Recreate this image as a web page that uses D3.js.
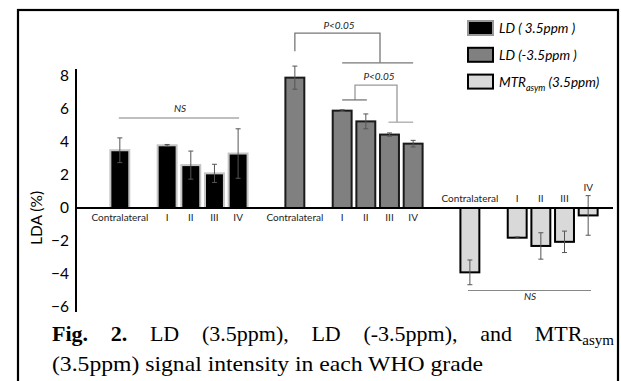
<!DOCTYPE html>
<html>
<head>
<meta charset="utf-8">
<style>
  body { margin: 0; background: #fff; }
  svg { display: block; }
  .tick text { font-family: Lato, "Open Sans", sans-serif; font-size: 15.5px; fill: #000; }
  .cat { font-family: Lato, "Open Sans", sans-serif; font-size: 10px; fill: #222; }
  .note { font-family: Lato, "Open Sans", sans-serif; font-size: 10px; font-style: italic; fill: #222; }
  .leg { font-family: Lato, "Open Sans", sans-serif; font-size: 13.5px; font-style: italic; fill: #000; }
  .cap { font-family: "Liberation Serif", "Times New Roman", serif; font-size: 22px; fill: #000; }
</style>
</head>
<body>
<script src="https://d3js.org/d3.v7.min.js"></script>
<script>

var width = 621,
    height = 381;

// data
var grades = ["Contralateral", "I", "II", "III", "IV"];
var groups = ["ld35", "ldm35", "mtr"];
var seriesNames = ["LD ( 3.5ppm )", "LD (-3.5ppm )", "MTR"];

var ld35 = [3.5, 3.8, 2.6, 2.1, 3.3];
var ld35Err = [0.75, 0.05, 0.85, 0.55, 1.5];

var ldm35 = [7.9, 5.9, 5.25, 4.45, 3.9];
var ldm35Err = [0.7, 0.05, 0.45, 0.1, 0.2];

var mtr = [-3.9, -1.8, -2.3, -2.05, -0.45];
var mtrErr = [0.75, 0.05, 0.8, 0.65, 1.2];

var yTicks = [-6, -4, -2, 0, 2, 4, 6, 8];

var fills = ["#000000", "#808080", "#d9d9d9"];
var strokes = ["#c4c4c4", "#1a1a1a", "#000000"];

var values = [ld35, ldm35, mtr];
var errors = [ld35Err, ldm35Err, mtrErr];

var svg = d3.select("body").append("svg")
    .attr("width", width)
    .attr("height", height);

// outer frame
svg.append("rect")
    .attr("x", 18).attr("y", 10)
    .attr("width", 600).attr("height", 400)
    .attr("fill", "none")
    .attr("stroke", "#000")
    .attr("stroke-width", 2.2);

// scales
var y = d3.scaleLinear().domain([-6, 8]).range([307, 76]);

var x0 = d3.scaleBand()
    .domain(groups)
    .range([108, 600])
    .paddingInner(0.189);

// one empty slot between contralateral and grade I
var slots = ["Contralateral", "gap", "I", "II", "III", "IV"];
var x1 = d3.scaleBand()
    .domain(slots)
    .range([0, x0.bandwidth()])
    .paddingInner(0.2)
    .paddingOuter(0.1);

function cx(g, name) {
  return x0(g) + x1(name) + x1.bandwidth() / 2;
}

// y axis
var yAxis = d3.axisLeft(y)
    .tickValues(yTicks)
    .tickSize(0)
    .tickPadding(7);

var ax = svg.append("g")
    .attr("transform", "translate(76,0)")
    .call(yAxis);
ax.select(".domain").remove();

svg.append("line")
    .attr("x1", 76).attr("x2", 76)
    .attr("y1", 69).attr("y2", 312)
    .attr("stroke", "#000").attr("stroke-width", 2);

svg.append("text")
    .attr("transform", "translate(42," + 218 + ") rotate(-90)")
    .attr("text-anchor", "middle")
    .style("font-family", "Lato, 'Open Sans', sans-serif")
    .style("font-size", "15.5px")
    .text("LDA (%)");

// bars
groups.forEach(function(g, gi) {
  var rows = grades.map(function(name, i) {
    return { name: name, v: values[gi][i], e: errors[gi][i] };
  });

  var bars = svg.append("g").attr("class", "bars-" + g);

  bars.selectAll("rect")
    .data(rows)
    .enter()
    .append("rect")
    .attr("x", function(d) { return x0(g) + x1(d.name); })
    .attr("y", function(d) { return y(Math.max(0, d.v)); })
    .attr("width", x1.bandwidth())
    .attr("height", function(d) { return Math.abs(y(d.v) - y(0)); })
    .attr("fill", fills[gi])
    .attr("stroke", strokes[gi])
    .attr("stroke-width", 2);

  // error bars
  var eb = bars.selectAll(".err")
    .data(rows)
    .enter()
    .append("g")
    .attr("class", "err")
    .attr("stroke", "#555")
    .attr("stroke-width", 1);

  eb.append("line")
    .attr("x1", function(d) { return cx(g, d.name); })
    .attr("x2", function(d) { return cx(g, d.name); })
    .attr("y1", function(d) { return y(d.v + d.e); })
    .attr("y2", function(d) { return y(d.v - d.e); });

  [1, -1].forEach(function(s) {
    eb.append("line")
      .attr("x1", function(d) { return cx(g, d.name) - 2.5; })
      .attr("x2", function(d) { return cx(g, d.name) + 2.5; })
      .attr("y1", function(d) { return y(d.v + s * d.e); })
      .attr("y2", function(d) { return y(d.v + s * d.e); });
  });

  // category labels
  bars.selectAll(".cat")
    .data(rows)
    .enter()
    .append("text")
    .attr("class", "cat")
    .attr("text-anchor", "middle")
    .attr("x", function(d) { return cx(g, d.name); })
    .attr("y", function(d) {
      if (gi < 2) return 221;
      return d.name == "IV" ? 191 : 202;
    })
    .text(function(d) { return d.name; });
});

// zero line
svg.append("line")
    .attr("x1", 76).attr("x2", 613)
    .attr("y1", y(0)).attr("y2", y(0))
    .attr("stroke", "#000").attr("stroke-width", 2);

// significance marks
function path(pts, color) {
  svg.append("path")
    .attr("d", d3.line()(pts))
    .attr("fill", "none")
    .attr("stroke", color)
    .attr("stroke-width", 1.3);
}

// NS over LD (3.5ppm)
svg.append("line")
    .attr("x1", cx("ld35", "Contralateral") - 1).attr("x2", cx("ld35", "IV") + 1)
    .attr("y1", y(5.45)).attr("y2", y(5.45))
    .attr("stroke", "#aaa").attr("stroke-width", 1.5);
svg.append("text").attr("class", "note")
    .attr("x", 180).attr("y", y(5.8))
    .attr("text-anchor", "middle").text("NS");

// P<0.05 contralateral vs grades (LD -3.5ppm)
var gc = cx("ldm35", "Contralateral"),
    gI = cx("ldm35", "I"), gII = cx("ldm35", "II"),
    gIII = cx("ldm35", "III"), gIV = cx("ldm35", "IV");

path([[gc, y(9.5)], [gc, y(10.6)], [380, y(10.6)], [380, y(8.8)]], "#777");
path([[gI, y(8.8)], [gIV, y(8.8)]], "#777");
svg.append("text").attr("class", "note")
    .attr("x", 339).attr("y", 29)
    .attr("text-anchor", "middle").text("P<0.05");

// P<0.05 I-II vs III-IV
path([[355, y(6.55)], [355, y(7.45)], [397, y(7.45)], [397, y(5.2)]], "#999");
path([[gI, y(6.55)], [gII + 1, y(6.55)]], "#777");
path([[gIII - 1, y(5.2)], [gIV, y(5.2)]], "#aaa");
svg.append("text").attr("class", "note")
    .attr("x", 379).attr("y", 80)
    .attr("text-anchor", "middle").text("P<0.05");

// NS under MTRasym
svg.append("line")
    .attr("x1", 468).attr("x2", 591)
    .attr("y1", y(-5)).attr("y2", y(-5))
    .attr("stroke", "#888").attr("stroke-width", 1);
svg.append("text").attr("class", "note")
    .attr("x", 530).attr("y", y(-5.6))
    .attr("text-anchor", "middle").text("NS");

// legend
var legend = svg.append("g").attr("transform", "translate(468,21)");
var li = legend.selectAll("g")
    .data(seriesNames)
    .enter()
    .append("g")
    .attr("transform", function(d, i) { return "translate(0," + (i * 26.8) + ")"; });

li.append("rect")
    .attr("width", 25).attr("height", 14)
    .attr("fill", function(d, i) { return fills[i]; })
    .attr("stroke", function(d, i) { return i == 0 ? "#999" : "#000"; })
    .attr("stroke-width", 2);

var lt = li.append("text")
    .attr("class", "leg")
    .attr("x", 31).attr("y", 12);

lt.filter(function(d, i) { return i < 2; }).text(function(d) { return d; });
var mt = lt.filter(function(d, i) { return i == 2; });
mt.append("tspan").text("MTR");
mt.append("tspan").attr("dy", 4).style("font-size", "9px").text("asym");
mt.append("tspan").attr("dy", -4).text(" (3.5ppm)");

// caption, first line justified
var capL = 52, capR = 614;
var words = ["Fig.", "2.", "LD", "(3.5ppm),", "LD", "(-3.5ppm),", "and", "MTR"];
var wnodes = words.map(function(w, i) {
  var t = svg.append("text").attr("class", "cap").attr("y", 341);
  if (i < 2) t.style("font-weight", "bold");
  if (w == "MTR") {
    t.append("tspan").text("MTR");
    t.append("tspan").attr("dy", 4).style("font-size", "15px").text("asym");
  } else {
    t.text(w);
  }
  return t;
});
var widths = wnodes.map(function(t) { return t.node().getComputedTextLength(); });
var gap = (capR - capL - d3.sum(widths)) / (words.length - 1);
var cur = capL;
wnodes.forEach(function(t, i) {
  t.attr("x", cur);
  cur += widths[i] + gap;
});

svg.append("text").attr("class", "cap")
    .attr("x", capL).attr("y", 371)
    .attr("textLength", 431)
    .attr("lengthAdjust", "spacingAndGlyphs")
    .text("(3.5ppm) signal intensity in each WHO grade");

</script>
</body>
</html>
